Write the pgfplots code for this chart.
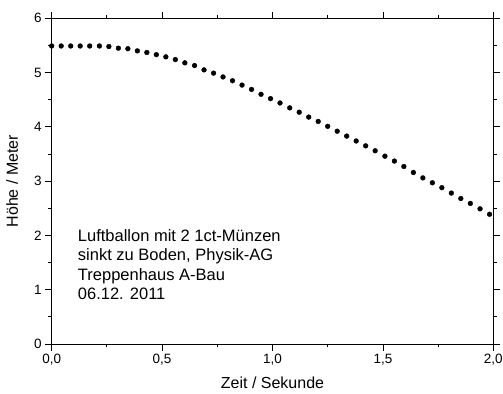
\documentclass[border=0pt]{standalone}
\usepackage{pgfplots}
\pgfplotsset{compat=1.18}
\usepackage{fontspec}
\setmainfont{Liberation Sans}
\begin{document}
\begin{tikzpicture}
\begin{axis}[
  scale only axis,
  width=441.6bp, height=325.7bp,
  xmin=0, xmax=2, ymin=0, ymax=6,
  axis line style={line width=0.9bp},
  xtick={0,0.5,1,1.5,2}, ytick={0,1,2,3,4,5,6},
  minor x tick num=1, minor y tick num=1,
  tick align=outside,
  major tick length=6.5bp, minor tick length=3.3bp,
  tick style={line width=0.8bp, black},
  xticklabel pos=bottom, yticklabel pos=left,
  xtick pos=both, ytick pos=both,
  /pgf/number format/assume math mode=true,
  xticklabel style={/pgf/number format/.cd, use comma, fixed, fixed zerofill, precision=1},
  yticklabel style={/pgf/number format/.cd, fixed, precision=0},
  tick label style={font=\fontsize{13.5bp}{15bp}\selectfont},
  xlabel={Zeit / Sekunde},
  ylabel={Höhe / Meter},
  every axis x label/.style={at={(rel axis cs:0.5,0)}, anchor=center, yshift=-39bp, font=\fontsize{16bp}{18bp}\selectfont},
  every axis y label/.style={at={(rel axis cs:0,0.5)}, anchor=center, xshift=-39.5bp, rotate=90, font=\fontsize{16bp}{18bp}\selectfont},
  clip=false,
]
\addplot[only marks, mark=*, mark size=2.4bp, black] coordinates {
(0.000,5.49) (0.043,5.49) (0.086,5.49) (0.129,5.49) (0.172,5.49) (0.216,5.49)
(0.259,5.48) (0.302,5.45) (0.345,5.44) (0.388,5.40) (0.431,5.37) (0.474,5.33)
(0.517,5.29) (0.560,5.24) (0.603,5.18) (0.647,5.13) (0.690,5.05) (0.733,4.99)
(0.776,4.92) (0.819,4.85) (0.862,4.77) (0.905,4.69) (0.948,4.60) (0.991,4.52)
(1.034,4.44) (1.078,4.35) (1.121,4.27) (1.164,4.18) (1.207,4.10) (1.250,4.01)
(1.293,3.92) (1.336,3.83) (1.379,3.74) (1.422,3.65) (1.465,3.56) (1.509,3.46)
(1.552,3.37) (1.595,3.27) (1.638,3.16) (1.681,3.06) (1.724,2.97) (1.767,2.88)
(1.810,2.78) (1.853,2.68) (1.896,2.59) (1.940,2.49) (1.983,2.39)
};
\node[anchor=north west, align=left, inner sep=0pt,
  font=\fontsize{16.5bp}{19.5bp}\selectfont] at (axis cs:0.118,2.12)
  {Luftballon mit 2 1ct-Münzen\\sinkt zu Boden, Physik-AG\\Treppenhaus A-Bau\\06.12. 2011};
\coordinate (sw) at (rel axis cs:0,0);
\coordinate (ne) at (rel axis cs:1,1);
\end{axis}
\pgfresetboundingbox
\path ([shift={(-51.7bp,-50bp)}]sw) rectangle ([shift={(9.7bp,18.3bp)}]ne);
\end{tikzpicture}
\end{document}
